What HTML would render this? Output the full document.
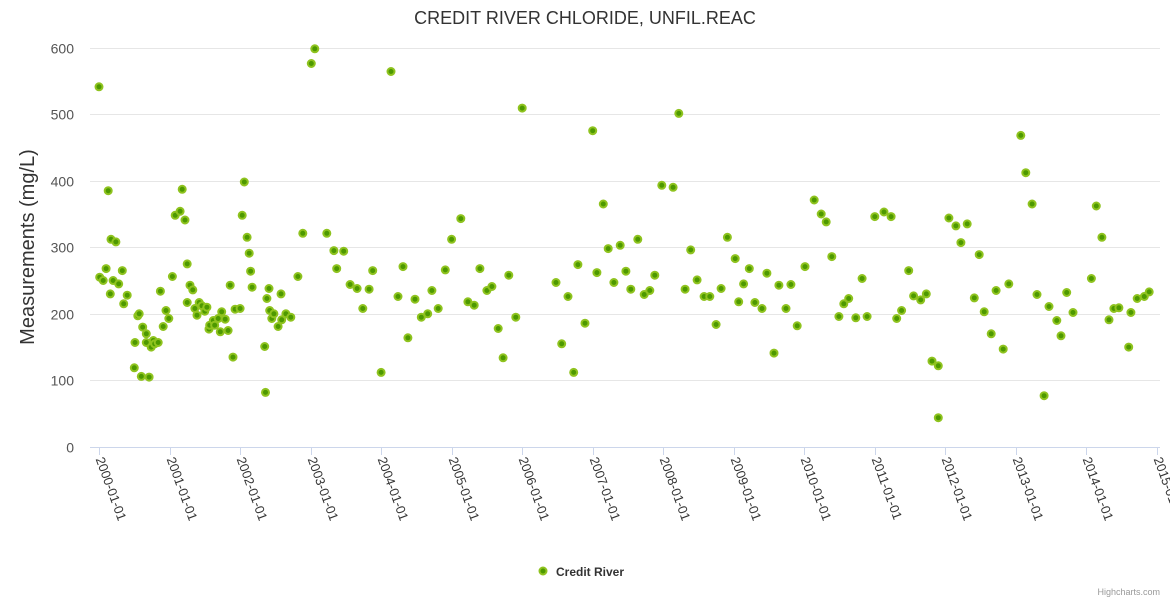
<!DOCTYPE html>
<html><head><meta charset="utf-8">
<style>
html,body{margin:0;padding:0;background:#fff;}
svg{display:block;font-family:"Liberation Sans","DejaVu Sans",sans-serif;}
</style></head>
<body>
<svg id="chart" width="1170" height="600" viewBox="0 0 1170 600" xmlns="http://www.w3.org/2000/svg">
<rect width="1170" height="600" fill="#fff"/>
<text x="585" y="24" text-anchor="middle" font-size="18" fill="#333">CREDIT RIVER CHLORIDE, UNFIL.REAC</text>
<text transform="translate(34,247) rotate(-90)" text-anchor="middle" font-size="20" fill="#333">Measurements (mg/L)</text>
<g id="grid"></g>
<g id="yaxis"></g>
<g id="xaxis"></g>
<g id="points"></g>
<g>
<circle cx="543" cy="571" r="3.5" fill="#4d9900" stroke="#8fc31f" stroke-width="2"/>
<text x="556" y="576" font-size="12" font-weight="bold" fill="#333">Credit River</text>
</g>
<text x="1160" y="595" text-anchor="end" font-size="9" fill="#999">Highcharts.com</text>
</svg>
<script>
const yTicks = [0,100,200,300,400,500,600];
const xTickLabels = ["2000-01-01","2001-01-01","2002-01-01","2003-01-01","2004-01-01","2005-01-01","2006-01-01","2007-01-01","2008-01-01","2009-01-01","2010-01-01","2011-01-01","2012-01-01","2013-01-01","2014-01-01","2015-01-01"];
const xTickYears = [2000,2001,2002,2003,2004,2005,2006,2007,2008,2009,2010,2011,2012,2013,2014,2015];
const dates = [
2000.00,2000.01,2000.06,2000.10,2000.13,2000.16,2000.17,2000.20,2000.24,2000.28,2000.33,2000.35,2000.40,2000.50,2000.51,2000.55,2000.57,2000.60,2000.62,2000.67,2000.67,2000.71,2000.74,2000.77,2000.79,2000.84,2000.87,2000.91,2000.95,2000.99,
2001.04,2001.08,2001.15,2001.18,2001.22,2001.25,2001.25,2001.29,2001.33,2001.36,2001.39,2001.42,2001.46,2001.50,2001.53,2001.56,2001.57,2001.62,2001.64,2001.69,2001.72,2001.74,2001.79,2001.83,2001.86,2001.90,2001.93,
2002.00,2002.03,2002.06,2002.10,2002.13,2002.15,2002.17,2002.35,2002.36,2002.38,2002.41,2002.42,2002.45,2002.48,2002.54,2002.58,2002.59,2002.65,2002.72,2002.82,2002.89,
2003.01,2003.06,2003.23,2003.33,2003.37,2003.47,2003.56,2003.66,2003.74,2003.83,2003.88,
2004.00,2004.14,2004.24,2004.31,2004.38,2004.48,2004.57,2004.66,2004.72,2004.81,2004.91,
2005.00,2005.13,2005.23,2005.32,2005.40,2005.50,2005.57,2005.66,2005.73,2005.81,2005.91,
2006.00,2006.48,2006.56,2006.65,2006.73,2006.79,2006.89,
2007.00,2007.06,2007.15,2007.22,2007.30,2007.39,2007.47,2007.54,2007.64,2007.73,2007.81,2007.88,2007.98,
2008.14,2008.22,2008.31,2008.39,2008.48,2008.58,2008.66,2008.75,2008.82,2008.91,
2009.02,2009.07,2009.14,2009.22,2009.30,2009.40,2009.47,2009.57,2009.64,2009.74,2009.81,2009.90,
2010.01,2010.14,2010.24,2010.31,2010.39,2010.49,2010.56,2010.63,2010.73,2010.82,2010.89,
2011.00,2011.13,2011.23,2011.31,2011.38,2011.48,2011.55,2011.65,2011.73,2011.81,2011.90,2011.90,
2012.05,2012.15,2012.22,2012.31,2012.41,2012.48,2012.55,2012.65,2012.72,2012.82,2012.90,
2013.07,2013.14,2013.23,2013.30,2013.40,2013.47,2013.58,2013.64,2013.72,2013.81,
2014.07,2014.14,2014.22,2014.32,2014.39,2014.46,2014.60,2014.63,2014.72,2014.82,2014.89];
const values = [
541,255,250,268,385,230,312,250,308,245,265,215,228,119,157,197,200,106,180,170,157,105,150,160,155,157,234,181,205,193,
256,348,354,387,341,275,217,243,236,208,198,217,212,204,210,177,183,190,183,193,173,203,192,175,243,135,207,
208,348,398,315,291,264,240,151,82,223,238,205,193,200,181,230,191,200,195,256,321,
576,598,321,295,268,294,244,238,208,237,265,
112,564,226,271,164,222,195,200,235,208,266,
312,343,218,213,268,235,241,178,134,258,195,
509,247,155,226,112,274,186,
475,262,365,298,247,303,264,237,312,229,235,258,393,
390,501,237,296,251,226,226,184,238,315,
283,218,245,268,217,208,261,141,243,208,244,182,
271,371,350,338,286,196,215,223,194,253,196,
346,353,346,193,205,265,227,221,230,129,122,44,
344,332,307,335,224,289,203,170,235,147,245,
468,412,365,229,77,211,190,167,232,202,
253,362,315,191,208,209,150,202,223,226,233];

const NS = "http://www.w3.org/2000/svg";
const plotLeft = 90, plotRight = 1160, yTop = 47.5, yBottom = 447;
const xStart = 99, pxPerYear = 70.53;
function xScale(t){ return xStart + (t - 2000) * pxPerYear; }
function yScale(v){ return yBottom - (v / 600) * (yBottom - yTop); }
function mk(tag, attrs, parent){ const e=document.createElementNS(NS,tag); for(const k in attrs) e.setAttribute(k, attrs[k]); parent.appendChild(e); return e; }

const grid = document.getElementById('grid');
const yaxis = document.getElementById('yaxis');
yTicks.forEach(v => {
  const y = Math.round(yScale(v)) + 0.5;
  if (v > 0) {
    const l = mk('line', {x1:plotLeft, x2:plotRight, y1:y, y2:y, stroke:'#e6e6e6', 'stroke-width':1}, grid);
    
    
  }
  const t = mk('text', {x:74, y:y+5, 'text-anchor':'end', 'font-size':14, fill:'#555'}, yaxis);
  t.textContent = v;
  
  
});

const xaxis = document.getElementById('xaxis');
const axisLine = mk('line', {x1:plotLeft, x2:plotRight, y1:447.5, y2:447.5, stroke:'#ccd6eb', 'stroke-width':1}, xaxis);


xTickYears.forEach((yr, i) => {
  const x = Math.round(xScale(yr)) + 0.5;
  const tk = mk('line', {x1:x, x2:x, y1:447, y2:455, stroke:'#ccd6eb', 'stroke-width':1}, xaxis);
  
  
  const t = mk('text', {transform:'translate(' + (x-4) + ',459) rotate(70)', 'text-anchor':'start', 'font-size':13, fill:'#333'}, xaxis);
  t.textContent = xTickLabels[i];
  
  
});

const pts = document.getElementById('points');
dates.forEach((d, i) => {
  const c = mk('circle', {cx:xScale(d).toFixed(1), cy:yScale(values[i]).toFixed(1), r:3.5, fill:'#4d9900', stroke:'#8fc31f', 'stroke-width':2}, pts);
  
  
});
</script>
</body></html>
